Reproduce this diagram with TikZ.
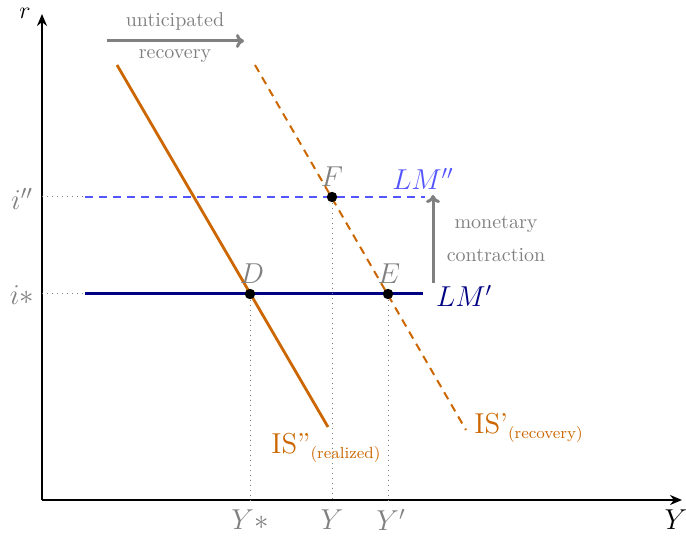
\documentclass[tikz,border=0pt]{standalone}
\usetikzlibrary{arrows.meta}
\definecolor{isorange}{RGB}{204,102,0}
\definecolor{lmnavy}{RGB}{0,0,130}
\definecolor{lmblue}{RGB}{85,85,255}
\definecolor{txtgray}{RGB}{128,128,128}
\tikzset{
  axisline/.style={line width=1pt,-{Stealth[length=6pt,width=5pt]}},
  isline/.style={isorange,line width=1.4pt},
  isdash/.style={isorange,line width=1pt,dash pattern=on 4pt off 3pt},
  lmsolid/.style={lmnavy,line width=1.5pt},
  lmdash/.style={lmblue,line width=0.8pt,dash pattern=on 4pt off 3pt},
  guide/.style={txtgray,dotted,line width=0.5pt},
  shiftarrow/.style={txtgray,line width=1.5pt,-{To[length=4pt,width=7pt]}},
  eqpt/.style={circle,fill=black,inner sep=0pt,minimum size=5.2pt},
  ptlabel/.style={txtgray,font=\Large},
  axlabel/.style={txtgray,font=\Large},
  note/.style={txtgray,font=\normalsize},
}
\begin{document}
\begin{tikzpicture}[x=0.5pt,y=-0.5pt]
\useasboundingbox (0,0) rectangle (686,539);
% axes
\coordinate (O) at (42,500);
\coordinate (ytop) at (42,14);
\coordinate (xend) at (682,500);
\draw[axisline] (O) -- (ytop);
\draw[axisline] (O) -- (xend);
\node (rlab) at (25,13) {\large $r$};
\node (Ylab) at (676,520) {\Large $Y$};
% IS curves
\coordinate (isA) at (117,65);
\coordinate (isB) at (328,427);
\coordinate (ispA) at (255,65);
\coordinate (ispB) at (466,430);
\draw[isline] (isA) -- (isB);
\draw[isdash] (ispA) -- (ispB);
\node[isorange,anchor=west,inner sep=0pt] (isdd) at (271,448) {\Large IS''\raisebox{-0.45ex}{\footnotesize(realized)}};
\node[isorange,anchor=west,inner sep=0pt] (isp) at (474,428) {\Large IS'\raisebox{-0.45ex}{\footnotesize(recovery)}};
% LM curves
\coordinate (lmA) at (85,294);
\coordinate (lmB) at (423,294);
\coordinate (lmdA) at (85,197);
\coordinate (lmdB) at (425,197);
\coordinate (iaxs) at (42,294);
\coordinate (iaxd) at (42,197);
\draw[guide] (iaxs) -- (lmA);
\draw[guide] (iaxd) -- (lmdA);
\draw[lmsolid] (lmA) -- (lmB);
\draw[lmdash] (lmdA) -- (lmdB);
\node[lmnavy,anchor=west,font=\Large] (lmp) at (429,296) {$LM'$};
\node[lmblue,font=\Large] (lmpp) at (423,179) {$LM''$};
\node[axlabel] (ipp) at (22,199) {$i''$};
\node[axlabel] (is) at (22,295) {$i*$};
% equilibrium points
\node[eqpt] (D) at (250,294) {};
\node[eqpt] (E) at (388,294) {};
\node[eqpt] (F) at (332,197) {};
\node[ptlabel] (Dl) at (252,274) {$D$};
\node[ptlabel] (El) at (389,274) {$E$};
\node[ptlabel] (Fl) at (332,177) {$F$};
\coordinate (Dx) at (250,500);
\coordinate (Ex) at (388,500);
\coordinate (Fx) at (332,500);
\draw[guide] (D) -- (Dx);
\draw[guide] (E) -- (Ex);
\draw[guide] (F) -- (Fx);
\node[axlabel] (Ys) at (250,520) {$Y*$};
\node[axlabel] (Y0) at (332,520) {$Y$};
\node[axlabel] (Yp) at (391,520) {$Y'$};
% shift arrows
\coordinate (rA) at (107,41);
\coordinate (rB) at (244,41);
\draw[shiftarrow] (rA) -- (rB);
\node[note] (unt) at (175,22) {unticipated};
\node[note] (rec) at (175,56) {recovery};
\coordinate (mA) at (433,283);
\coordinate (mB) at (433,195);
\draw[shiftarrow] (mA) -- (mB);
\node[note] (mon) at (496,224) {monetary};
\node[note] (con) at (496,255) {contraction};
\end{tikzpicture}
\end{document}
